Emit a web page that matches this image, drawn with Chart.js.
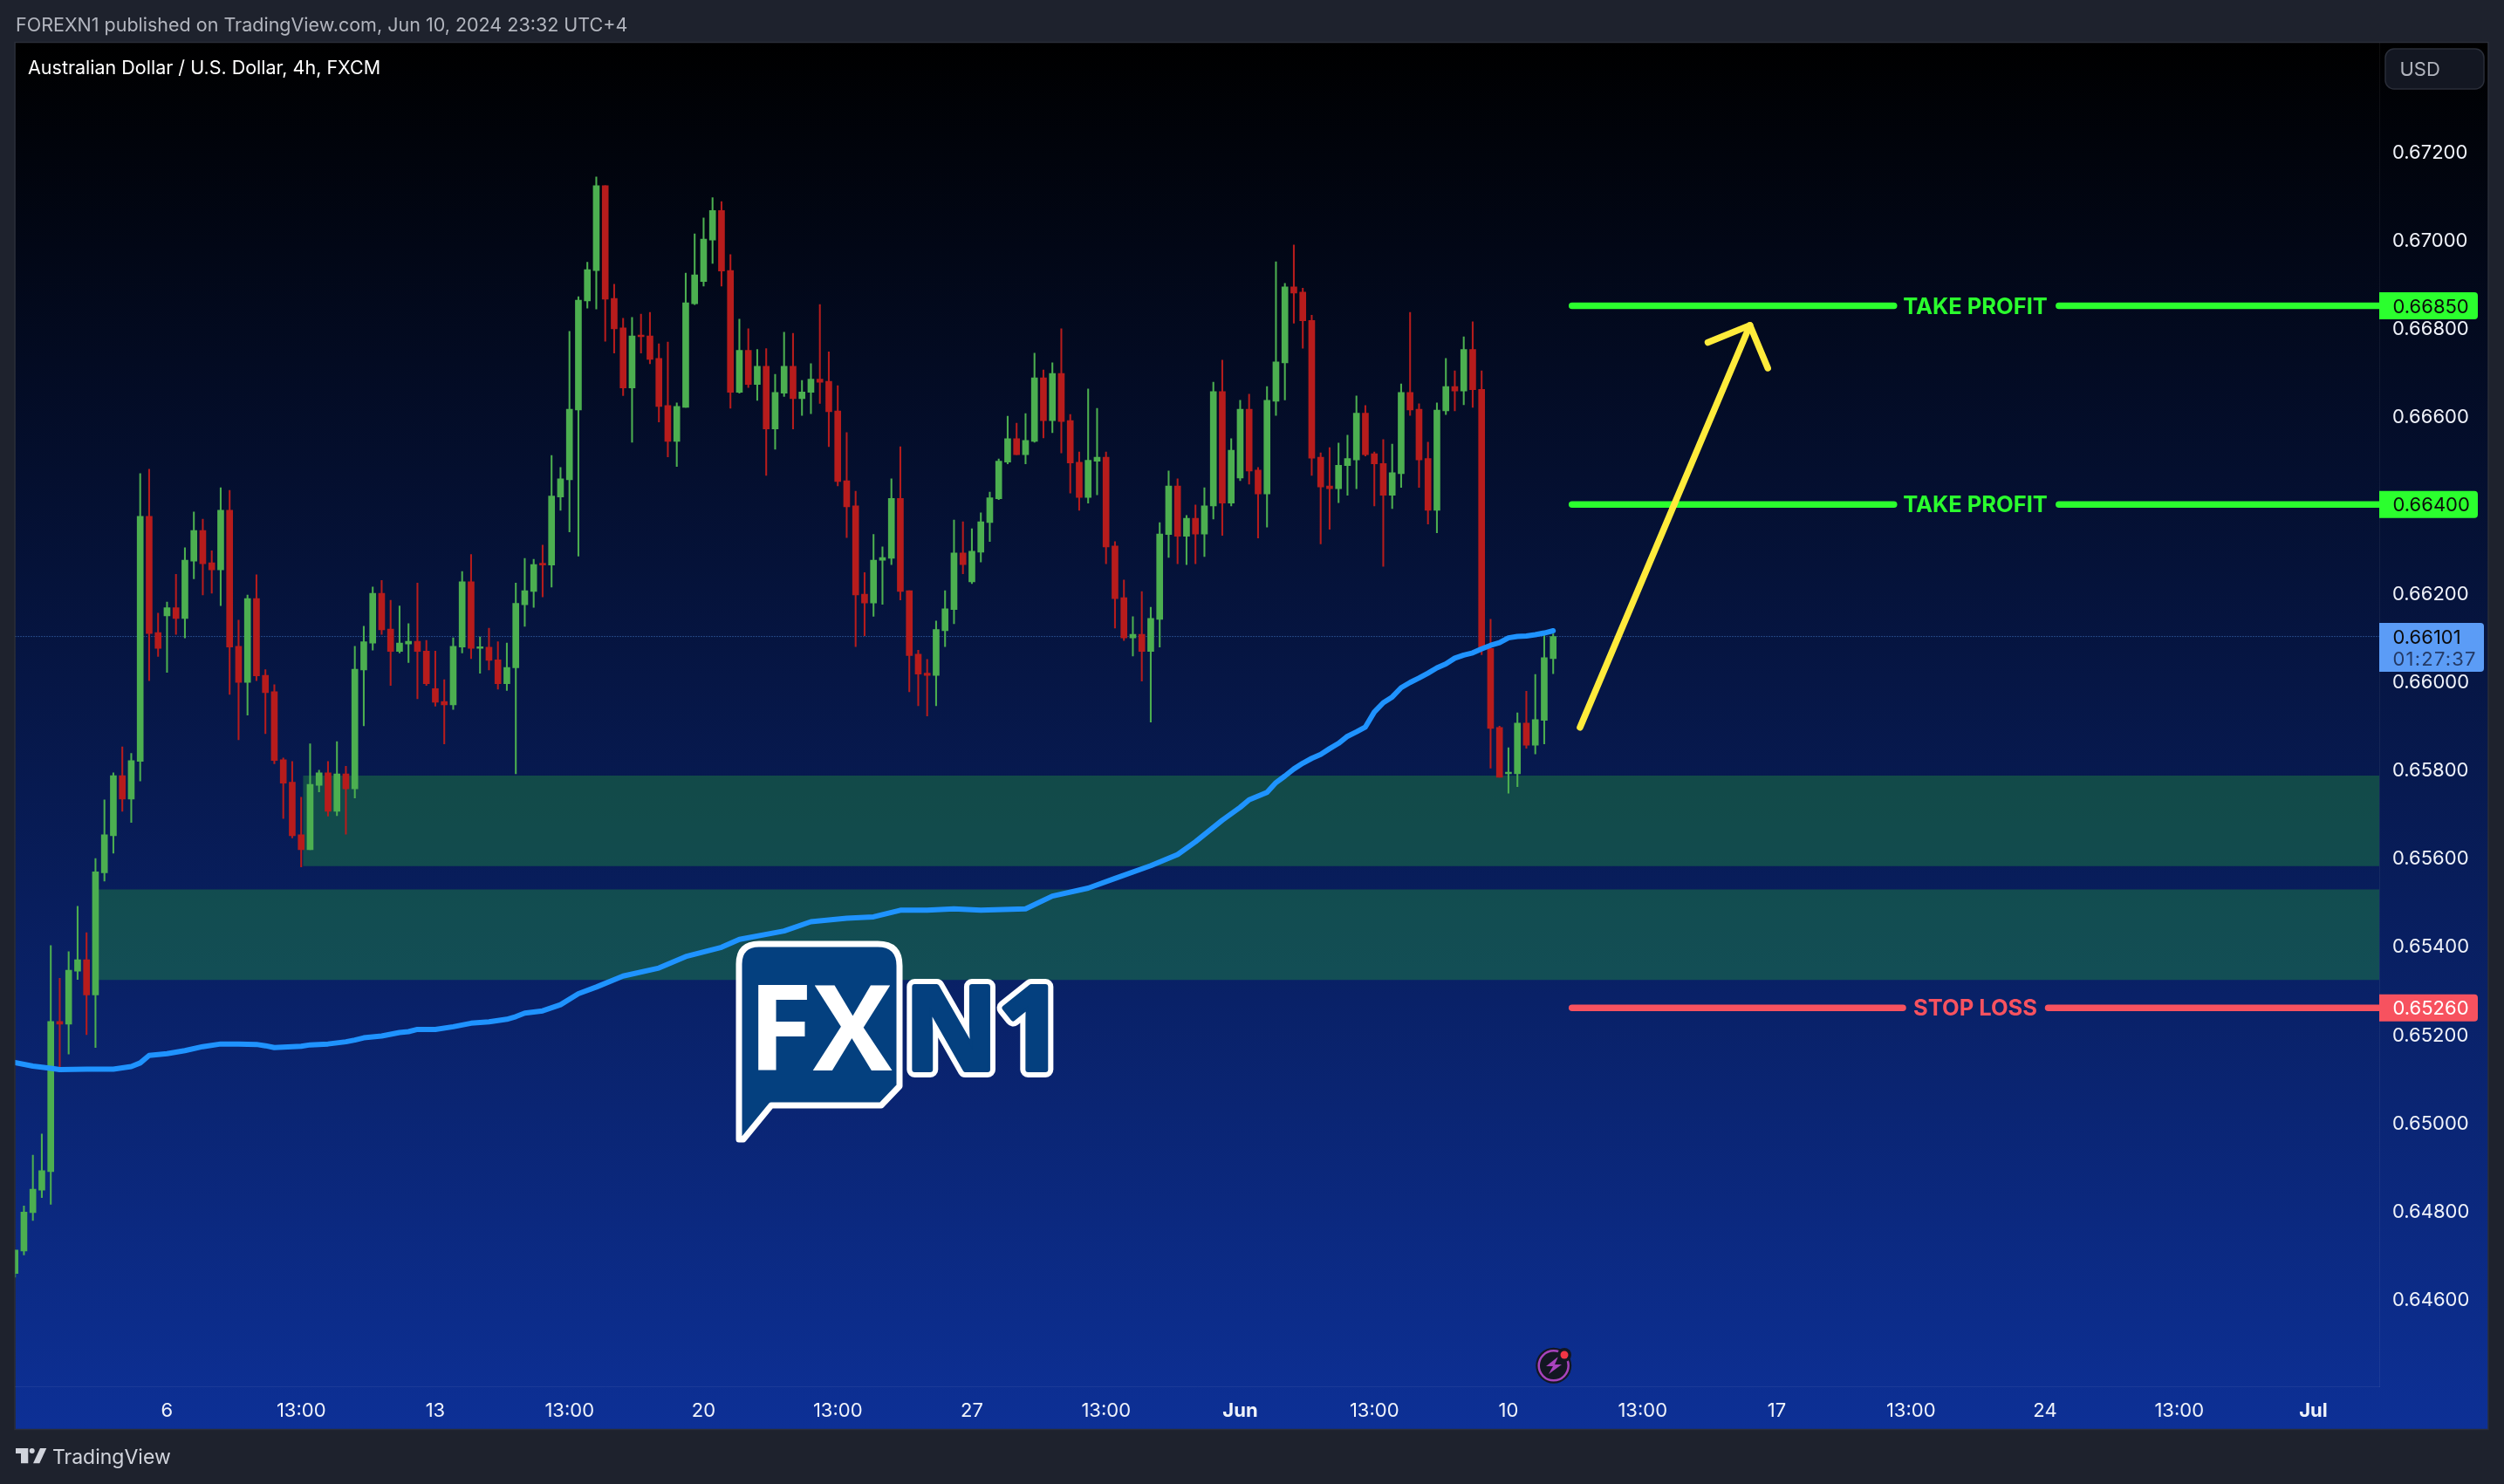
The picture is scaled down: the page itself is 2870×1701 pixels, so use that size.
<!DOCTYPE html>
<html>
<head>
<meta charset="utf-8">
<title>AUD/USD 4h</title>
<script src="https://cdn.jsdelivr.net/npm/chart.js@4"></script>
<style>
  html, body { margin: 0; padding: 0; background: #1e222d; overflow: hidden; }
  canvas { display: block; }
</style>
</head>
<body>
<canvas id="chart" width="2870" height="1701"></canvas>
<script>
// --- candles, one entry per 4h bar ---
const opens = [
  0.64658,0.64709,0.64796,0.64847,0.64889,0.65229,0.65223,0.65343,0.65369,0.65289,
  0.65566,0.65650,0.65786,0.65733,0.65818,0.66373,0.66110,0.66148,0.66166,0.66142,
  0.66272,0.66341,0.66268,0.66252,0.66387,0.66079,0.65997,0.66187,0.66013,0.65976,
  0.65822,0.65771,0.65652,0.65618,0.65764,0.65792,0.65705,0.65790,0.65756,0.66025,
  0.66086,0.66199,0.66118,0.66067,0.66084,0.66090,0.66068,0.65983,0.65954,0.65946,
  0.66077,0.66225,0.66074,0.66077,0.66048,0.65994,0.66030,0.66173,0.66203,0.66264,
  0.66263,0.66417,0.66456,0.66614,0.66861,0.66930,0.67122,0.66867,0.66800,0.66664,
  0.66782,0.66782,0.66731,0.66624,0.66543,0.66620,0.66855,0.66905,0.66999,0.67066,
  0.66930,0.66654,0.66749,0.66672,0.66713,0.66571,0.66652,0.66713,0.66640,0.66654,
  0.66684,0.66679,0.66612,0.66454,0.66397,0.66197,0.66177,0.66274,0.66278,0.66414,
  0.66205,0.66061,0.66018,0.66013,0.66114,0.66162,0.66290,0.66225,0.66292,0.66359,
  0.66413,0.66496,0.66549,0.66513,0.66543,0.66687,0.66590,0.66697,0.66590,0.66496,
  0.66416,0.66498,0.66507,0.66306,0.66189,0.66098,0.66106,0.66067,0.66140,0.66332,
  0.66442,0.66328,0.66369,0.66333,0.66397,0.66656,0.66403,0.66460,0.66616,0.66478,
  0.66424,0.66634,0.66721,0.66893,0.66881,0.66817,0.66507,0.66442,0.66436,0.66488,
  0.66501,0.66607,0.66515,0.66493,0.66421,0.66470,0.66654,0.66616,0.66504,0.66387,
  0.66612,0.66667,0.66657,0.66751,0.66661,0.66074,0.65895,0.65790,0.65790,0.65905,
  0.65855,0.65911,0.66051
];
const highs = [
  0.64711,0.64811,0.64926,0.64974,0.65401,0.65327,0.65387,0.65490,0.65430,0.65598,
  0.65731,0.65792,0.65851,0.65836,0.66470,0.66480,0.66154,0.66179,0.66242,0.66302,
  0.66383,0.66367,0.66295,0.66438,0.66432,0.66138,0.66195,0.66241,0.66026,0.65992,
  0.65826,0.65818,0.65737,0.65858,0.65798,0.65818,0.65863,0.65807,0.66079,0.66124,
  0.66213,0.66228,0.66183,0.66170,0.66130,0.66222,0.66092,0.66068,0.66003,0.66098,
  0.66248,0.66287,0.66100,0.66120,0.66089,0.66086,0.66222,0.66278,0.66276,0.66308,
  0.66511,0.66484,0.66792,0.66871,0.66949,0.67142,0.67122,0.66899,0.66822,0.66824,
  0.66831,0.66835,0.66764,0.66768,0.66630,0.66924,0.67013,0.67049,0.67095,0.67086,
  0.66966,0.66820,0.66798,0.66751,0.66753,0.66695,0.66790,0.66788,0.66681,0.66719,
  0.66853,0.66746,0.66669,0.66563,0.66430,0.66246,0.66332,0.66304,0.66458,0.66531,
  0.66205,0.66070,0.66049,0.66136,0.66205,0.66365,0.66361,0.66345,0.66381,0.66428,
  0.66503,0.66600,0.66584,0.66606,0.66743,0.66705,0.66721,0.66798,0.66604,0.66519,
  0.66662,0.66618,0.66519,0.66316,0.66229,0.66146,0.66203,0.66167,0.66359,0.66476,
  0.66458,0.66375,0.66399,0.66438,0.66677,0.66727,0.66549,0.66636,0.66650,0.66484,
  0.66667,0.66950,0.66901,0.66988,0.66890,0.66829,0.66517,0.66529,0.66539,0.66557,
  0.66646,0.66624,0.66519,0.66547,0.66537,0.66673,0.66835,0.66628,0.66541,0.66630,
  0.66731,0.66703,0.66780,0.66814,0.66703,0.66140,0.65898,0.65849,0.65928,0.65977,
  0.66015,0.66108,0.66107
];
const lows = [
  0.64650,0.64700,0.64778,0.64830,0.64815,0.65125,0.65155,0.65324,0.65199,0.65170,
  0.65547,0.65610,0.65705,0.65680,0.65774,0.66001,0.66056,0.66020,0.66106,0.66098,
  0.66232,0.66195,0.66199,0.66171,0.65970,0.65867,0.65923,0.66001,0.65881,0.65813,
  0.65689,0.65645,0.65579,0.65618,0.65749,0.65694,0.65695,0.65653,0.65735,0.65899,
  0.66070,0.66106,0.65990,0.66064,0.66042,0.65960,0.65990,0.65943,0.65858,0.65936,
  0.66064,0.66051,0.66018,0.66025,0.65982,0.65979,0.65790,0.66124,0.66167,0.66191,
  0.66213,0.66387,0.66338,0.66283,0.66845,0.66843,0.66770,0.66743,0.66647,0.66541,
  0.66743,0.66719,0.66587,0.66508,0.66486,0.66620,0.66853,0.66895,0.66946,0.66895,
  0.66618,0.66652,0.66665,0.66636,0.66466,0.66525,0.66645,0.66571,0.66602,0.66606,
  0.66629,0.66531,0.66442,0.66325,0.66078,0.66103,0.66147,0.66174,0.66264,0.66184,
  0.65976,0.65944,0.65921,0.65944,0.66078,0.66130,0.66243,0.66221,0.66270,0.66316,
  0.66411,0.66492,0.66513,0.66492,0.66541,0.66551,0.66563,0.66517,0.66426,0.66387,
  0.66403,0.66422,0.66266,0.66120,0.66092,0.66057,0.66000,0.65907,0.66077,0.66280,
  0.66266,0.66264,0.66266,0.66282,0.66367,0.66330,0.66397,0.66454,0.66446,0.66324,
  0.66349,0.66602,0.66637,0.66811,0.66754,0.66466,0.66311,0.66344,0.66404,0.66421,
  0.66436,0.66510,0.66397,0.66260,0.66391,0.66439,0.66602,0.66439,0.66356,0.66336,
  0.66604,0.66612,0.66626,0.66620,0.66060,0.65803,0.65782,0.65746,0.65761,0.65848,
  0.65835,0.65858,0.66017
];
const closes = [
  0.64711,0.64797,0.64849,0.64891,0.65229,0.65223,0.65345,0.65369,0.65289,0.65568,
  0.65652,0.65786,0.65733,0.65820,0.66373,0.66108,0.66074,0.66166,0.66142,0.66274,
  0.66341,0.66266,0.66252,0.66387,0.66077,0.65997,0.66187,0.66012,0.65974,0.65820,
  0.65769,0.65650,0.65618,0.65766,0.65792,0.65705,0.65790,0.65756,0.66027,0.66089,
  0.66199,0.66116,0.66067,0.66086,0.66090,0.66067,0.65994,0.65952,0.65946,0.66079,
  0.66225,0.66074,0.66077,0.66047,0.65994,0.66031,0.66176,0.66205,0.66264,0.66263,
  0.66419,0.66458,0.66616,0.66863,0.66932,0.67122,0.66865,0.66798,0.66664,0.66782,
  0.66780,0.66729,0.66622,0.66543,0.66622,0.66857,0.66920,0.67001,0.67066,0.66929,
  0.66654,0.66749,0.66672,0.66713,0.66571,0.66654,0.66713,0.66640,0.66655,0.66684,
  0.66677,0.66610,0.66452,0.66395,0.66195,0.66177,0.66274,0.66280,0.66414,0.66203,
  0.66058,0.66016,0.66013,0.66117,0.66164,0.66290,0.66264,0.66294,0.66361,0.66415,
  0.66498,0.66549,0.66513,0.66545,0.66687,0.66590,0.66697,0.66588,0.66494,0.66416,
  0.66500,0.66507,0.66304,0.66187,0.66098,0.66106,0.66067,0.66142,0.66333,0.66442,
  0.66328,0.66369,0.66333,0.66397,0.66656,0.66403,0.66523,0.66616,0.66476,0.66424,
  0.66636,0.66723,0.66893,0.66879,0.66816,0.66505,0.66440,0.66436,0.66489,0.66504,
  0.66607,0.66513,0.66492,0.66421,0.66472,0.66654,0.66614,0.66501,0.66387,0.66614,
  0.66667,0.66657,0.66751,0.66660,0.66074,0.65893,0.65782,0.65793,0.65905,0.65855,
  0.65913,0.66053,0.66101
];

// --- moving average, read at these bars ---
const maBars = [0,2,4,5,8,11,13,14,15,17,19,21,23,25,27,28,29,32,33,35,37,38,39,41,43,44,45,47,49,51,53,55,56,57,59,
  61,63,65,68,72,75,79,81,86,89,93,96,99,102,105,108,113,116,120,123,127,130,132,135,137,138,140,141,142,143,144,145,146,
  147,148,149,150,151,152,153,154,155,156,157,158,159,160,161,162,163,164,165,166,167,168,169,170,171,172];
const maValues = [0.65136,0.65128,0.65123,0.65120,0.65121,0.65121,0.65127,0.65135,0.65152,0.65156,0.65163,0.65172,0.65178,0.65178,0.65177,0.65174,0.65170,0.65173,0.65176,0.65178,0.65183,0.65187,0.65192,0.65196,0.65204,0.65206,0.65211,0.65211,0.65217,0.65225,0.65228,0.65234,0.65240,0.65248,0.65253,
  0.65267,0.65292,0.65307,0.65332,0.65350,0.65376,0.65397,0.65415,0.65434,0.65455,0.65463,0.65466,0.65481,0.65481,0.65484,0.65481,0.65484,0.65513,0.65531,0.65553,0.65582,0.65607,0.65636,0.65685,0.65714,0.65731,0.65748,0.65770,0.65785,0.65801,0.65814,0.65825,0.65834,
  0.65847,0.65859,0.65875,0.65885,0.65896,0.65930,0.65951,0.65964,0.65985,0.65997,0.66007,0.66018,0.66030,0.66039,0.66052,0.66059,0.66064,0.66073,0.66081,0.66087,0.66098,0.66101,0.66102,0.66105,0.66109,0.66114];

// --- axes ---
const yTicks = [0.646,0.648,0.650,0.652,0.654,0.656,0.658,0.660,0.662,0.664,0.666,0.668,0.670,0.672];
const xTickBars = [17,32,47,62,77,92,107,122,137,152,167,182,197,212,227,242,257];
const xTickLabels = ['6','13:00','13','13:00','20','13:00','27','13:00','Jun','13:00','10','13:00','17','13:00','24','13:00','Jul'];
const yMin = 0.644026, yMax = 0.67446, xMin = 0.03, xMax = 264.37;

// --- drawings on the chart ---
const lastPrice = 0.66101;
const zoneTops = [0.65786, 0.65528];
const zoneBottoms = [0.65581, 0.65323];
const zoneStartBars = [32.2, 9];
const levelPrices = [0.6685, 0.664, 0.6526];
const levelNames = ['TAKE PROFIT', 'TAKE PROFIT', 'STOP LOSS'];
const levelColors = ['#2bff2e', '#2bff2e', '#f7525f'];
const levelStartBar = 174.1;
const levelGapStarts = [210.1, 210.1, 211.1];
const levelGapEnds = [228.55, 228.55, 227.35];
const arrowShaftBars = [175, 194];
const arrowShaftPrices = [0.65895, 0.66806];
const arrowHeadBars = [189.3, 194, 196];
const arrowHeadPrices = [0.66767, 0.66806, 0.66709];

const GREEN = '#4caf50', RED = '#b71c1c';
const UI_FONT = 'Inter, "Noto Sans", sans-serif';

const barColors = closes.map((c, i) => (c >= opens[i] ? GREEN : RED));
const flatLine = (x0, x1, y) => [{ x: x0, y }, { x: x1, y }];

const datasets = [];

// zones, behind everything
zoneTops.forEach((top, i) => {
  datasets.push({
    type: 'line', order: 10,
    data: flatLine(zoneStartBars[i], xMax, top),
    fill: { target: { value: zoneBottoms[i] } },
    backgroundColor: 'rgba(36,147,62,0.4)',
    borderWidth: 0, pointRadius: 0
  });
});

// last price dotted line
datasets.push({
  type: 'line', order: 9,
  data: flatLine(xMin, xMax, lastPrice),
  borderColor: 'rgba(91,156,246,0.75)', borderWidth: 1, borderDash: [1, 2],
  pointRadius: 0, fill: false
});

// candles: thin bar for the wick, thick one for the body
datasets.push({
  type: 'bar', order: 8, grouped: false, barThickness: 1.4,
  data: highs.map((h, i) => ({ x: i, y: [lows[i], h] })),
  backgroundColor: barColors, borderWidth: 0
});
datasets.push({
  type: 'bar', order: 7, grouped: false, barThickness: 7, minBarLength: 2,
  data: opens.map((o, i) => ({ x: i, y: [o, closes[i]] })),
  backgroundColor: barColors, borderWidth: 0
});

// moving average
datasets.push({
  type: 'line', order: 6,
  data: maBars.map((b, i) => ({ x: b, y: maValues[i] })),
  borderColor: '#1f93ff', borderWidth: 6, borderCapStyle: 'round', borderJoinStyle: 'round',
  pointRadius: 0, fill: false, tension: 0
});

// take profit / stop loss lines, broken around their label
levelPrices.forEach((p, i) => {
  [[levelStartBar, levelGapStarts[i]], [levelGapEnds[i], xMax]].forEach(seg => {
    datasets.push({
      type: 'line', order: 5,
      data: flatLine(seg[0], seg[1], p),
      borderColor: levelColors[i], borderWidth: 7.5, borderCapStyle: 'round',
      pointRadius: 0, fill: false
    });
  });
});

// yellow arrow
datasets.push({
  type: 'line', order: 4,
  data: arrowShaftBars.map((b, i) => ({ x: b, y: arrowShaftPrices[i] })),
  borderColor: '#ffeb3b', borderWidth: 7.5, borderCapStyle: 'round', pointRadius: 0, fill: false
});
datasets.push({
  type: 'line', order: 4,
  data: arrowHeadBars.map((b, i) => ({ x: b, y: arrowHeadPrices[i] })),
  borderColor: '#ffeb3b', borderWidth: 7.5, borderCapStyle: 'round', borderJoinStyle: 'round', pointRadius: 0, fill: false
});

function roundRect(ctx, x, y, w, h, r) {
  ctx.beginPath();
  ctx.roundRect(x, y, w, h, r);
}

const framePlugin = {
  id: 'frame',
  beforeDraw(chart) {
    const ctx = chart.ctx;
    ctx.save();
    ctx.fillStyle = '#1e222d';
    ctx.fillRect(0, 0, chart.width, chart.height);
    const g = ctx.createLinearGradient(0, 49, 0, 1638);
    g.addColorStop(0, '#000000');
    g.addColorStop(1, '#0d3096');
    ctx.fillStyle = g;
    ctx.fillRect(17.5, 49, 2834.5, 1589);
    ctx.strokeStyle = '#2a2e39';
    ctx.lineWidth = 1.5;
    ctx.strokeRect(17, 48.5, 2835, 1590);
    ctx.restore();
  }
};

function drawTag(ctx, text, yMid, h, right, bg, fg) {
  ctx.fillStyle = bg;
  roundRect(ctx, 2727, yMid - h / 2, right - 2727, h, [0, 4, 4, 0]);
  ctx.fill();
  ctx.fillStyle = fg;
  ctx.fillText(text, 2742.5, yMid + 1.5);
}

function drawFxLogo(ctx) {
  ctx.save();
  ctx.lineJoin = 'round';
  ctx.beginPath();
  ctx.moveTo(870, 1082);
  ctx.lineTo(1006, 1082);
  ctx.quadraticCurveTo(1031, 1082, 1031, 1107);
  ctx.lineTo(1031, 1245);
  ctx.lineTo(1010, 1267);
  ctx.lineTo(884, 1267);
  ctx.lineTo(852, 1306);
  ctx.lineTo(847, 1306);
  ctx.lineTo(847, 1105);
  ctx.quadraticCurveTo(847, 1082, 870, 1082);
  ctx.closePath();
  ctx.fillStyle = '#04407f';
  ctx.fill();
  ctx.strokeStyle = '#ffffff';
  ctx.lineWidth = 7;
  ctx.stroke();

  ctx.textAlign = 'left';
  ctx.textBaseline = 'alphabetic';
  ctx.font = 'bold 136px "Open Sans"';
  ctx.fillStyle = '#ffffff';
  ctx.fillText('FX', 857, 1227);

  // N1 is fattened with a blue stroke on top of a wide white one
  ctx.font = 'bold 132px "Open Sans"';
  ctx.lineWidth = 18;
  ctx.strokeStyle = '#ffffff';
  ctx.strokeText('N1', 1036.5, 1226);
  ctx.lineWidth = 6;
  ctx.strokeStyle = '#04407f';
  ctx.strokeText('N1', 1036.5, 1226);
  ctx.fillStyle = '#04407f';
  ctx.fillText('N1', 1036.5, 1226);
  ctx.restore();
}

function drawBadge(ctx) {
  ctx.save();
  ctx.fillStyle = '#131722';
  ctx.beginPath(); ctx.arc(1780.7, 1565.3, 20.5, 0, Math.PI * 2); ctx.fill();
  ctx.strokeStyle = '#a843bd';
  ctx.lineWidth = 2.5;
  ctx.beginPath(); ctx.arc(1780.7, 1565.3, 17, 0, Math.PI * 2); ctx.stroke();
  ctx.fillStyle = '#a843bd';
  ctx.beginPath();
  ctx.moveTo(1786, 1555); ctx.lineTo(1772, 1566); ctx.lineTo(1780, 1566);
  ctx.lineTo(1775, 1575); ctx.lineTo(1790, 1564); ctx.lineTo(1782, 1564);
  ctx.closePath(); ctx.fill();
  ctx.fillStyle = '#131722';
  ctx.beginPath(); ctx.arc(1793, 1553, 8, 0, Math.PI * 2); ctx.fill();
  ctx.fillStyle = '#f23645';
  ctx.beginPath(); ctx.arc(1793, 1553, 4.5, 0, Math.PI * 2); ctx.fill();
  ctx.restore();
}

function drawTvLogo(ctx) {
  ctx.save();
  ctx.fillStyle = '#d1d4dc';
  ctx.beginPath();
  ctx.moveTo(18, 1660); ctx.lineTo(32.3, 1660); ctx.lineTo(32.3, 1677.3); ctx.lineTo(24, 1677.3);
  ctx.lineTo(24, 1666); ctx.lineTo(18, 1666);
  ctx.closePath(); ctx.fill();
  ctx.beginPath(); ctx.arc(36.7, 1663, 3, 0, Math.PI * 2); ctx.fill();
  ctx.beginPath();
  ctx.moveTo(46, 1660); ctx.lineTo(53.3, 1660); ctx.lineTo(45.3, 1677.3); ctx.lineTo(38, 1677.3);
  ctx.closePath(); ctx.fill();
  ctx.restore();
}

const overlayPlugin = {
  id: 'overlay',
  afterDraw(chart) {
    const ctx = chart.ctx;
    const y = chart.scales.y;
    ctx.save();
    ctx.textBaseline = 'middle';
    ctx.textAlign = 'left';

    // header + footer
    ctx.font = '21.5px ' + UI_FONT;
    ctx.fillStyle = '#b2b5be';
    ctx.fillText('FOREXN1 published on TradingView.com, Jun 10, 2024 23:32 UTC+4', 18, 29.5);
    ctx.fillStyle = '#ffffff';
    ctx.fillText('Australian Dollar / U.S. Dollar, 4h, FXCM', 32, 79);
    ctx.font = '23px ' + UI_FONT;
    ctx.fillStyle = '#d1d4dc';
    ctx.fillText('TradingView', 60, 1671);
    drawTvLogo(ctx);

    // currency button
    ctx.fillStyle = '#131722';
    ctx.strokeStyle = '#2a2e39';
    ctx.lineWidth = 1.5;
    roundRect(ctx, 2734, 56, 113, 46, 10);
    ctx.fill(); ctx.stroke();
    ctx.font = '22px ' + UI_FONT;
    ctx.fillStyle = '#b2b5be';
    ctx.fillText('USD', 2750.5, 80);

    // level labels on the lines
    ctx.font = 'bold 25.5px ' + UI_FONT;
    ctx.textAlign = 'center';
    levelPrices.forEach((p, i) => {
      ctx.fillStyle = levelColors[i];
      ctx.fillText(levelNames[i], 2264, y.getPixelForValue(p) + 1.5);
    });
    ctx.textAlign = 'left';

    // price tags on the axis
    ctx.font = '22px ' + UI_FONT;
    drawTag(ctx, '0.66850', y.getPixelForValue(0.6685), 31, 2840, '#2bff2e', '#0b0b0b');
    drawTag(ctx, '0.66400', y.getPixelForValue(0.664), 31, 2840, '#2bff2e', '#0b0b0b');
    drawTag(ctx, '0.65260', y.getPixelForValue(0.6526), 31, 2840, '#f7525f', '#ffffff');
    const py = y.getPixelForValue(lastPrice);
    ctx.fillStyle = '#5b9cf6';
    roundRect(ctx, 2727, py - 15.5, 120, 56, [0, 4, 4, 0]);
    ctx.fill();
    ctx.fillStyle = '#0b0b0b';
    ctx.fillText('0.66101', 2742.5, py + 1.5);
    ctx.fillStyle = '#243a66';
    ctx.letterSpacing = '1.2px';
    ctx.fillText('01:27:37', 2742.5, py + 26.5);
    ctx.letterSpacing = '0px';

    drawFxLogo(ctx);
    drawBadge(ctx);
    ctx.restore();
  }
};

new Chart(document.getElementById('chart'), {
  type: 'line',
  data: { datasets },
  plugins: [framePlugin, overlayPlugin],
  options: {
    responsive: false,
    devicePixelRatio: 1,
    animation: false,
    layout: { padding: { left: 17.5, top: 49, right: 18, bottom: 63 } },
    plugins: { legend: { display: false }, tooltip: { enabled: false }, title: { display: false } },
    scales: {
      x: {
        type: 'linear', min: xMin, max: xMax, offset: false,
        afterBuildTicks: s => { s.ticks = xTickBars.map(value => ({ value })); },
        afterFit: s => { s.height = 49; },
        grid: { display: false, drawTicks: false },
        border: { display: true, color: 'rgba(255,255,255,0.06)' },
        ticks: {
          autoSkip: false, maxRotation: 0, padding: 15, color: '#f0f3fa',
          font: ctx => {
            const label = xTickLabels[ctx.index];
            return { family: UI_FONT, size: 22, weight: (label === 'Jun' || label === 'Jul') ? 'bold' : 'normal' };
          },
          callback: (v, i) => xTickLabels[i]
        }
      },
      y: {
        type: 'linear', position: 'right', min: yMin, max: yMax,
        afterBuildTicks: s => { s.ticks = yTicks.map(value => ({ value })); },
        afterFit: s => { s.width = 125; },
        grid: { display: false, drawTicks: false },
        border: { display: true, color: 'rgba(255,255,255,0.06)' },
        ticks: {
          padding: 15, color: '#f0f3fa',
          // empty first line and tiny line height nudge the label down to sit on its price
          font: { family: UI_FONT, size: 22, lineHeight: 0.14 },
          callback: v => ['', v.toFixed(5)]
        }
      }
    }
  }
});
</script>
</body>
</html>
